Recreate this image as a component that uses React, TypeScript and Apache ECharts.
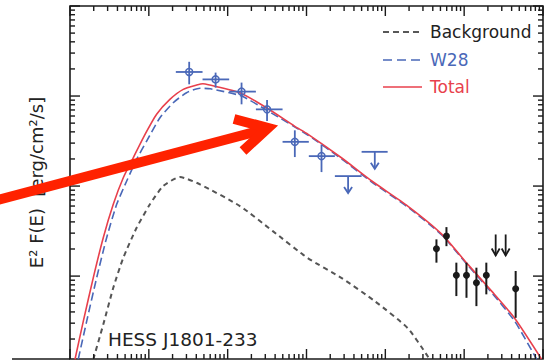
import React, { useEffect, useRef } from 'react';
import * as echarts from 'echarts';

// ---- Model curves (energy in eV, E^2 F(E) in erg/cm^2/s) ----
const totalE = [1.156e7, 1.476e7, 1.972e7, 2.642e7, 3.54e7, 4.74e7, 6.34e7, 8.49e7, 1.256e8, 1.849e8, 2.73e8, 4.04e8, 4.85e8, 5.94e8, 1.429e9, 3.11e9, 7.11e9, 1.038e10, 2.8e10, 6.73e10, 1.923e11, 5.19e11, 1.107e12, 2.23e12, 4.37e12, 9.59e12];
const totalF = [1.186e-13, 3.16e-13, 9.57e-13, 2.67e-12, 6.27e-12, 1.236e-11, 2.06e-11, 3.44e-11, 6.27e-11, 9.18e-11, 1.186e-10, 1.324e-10, 1.371e-10, 1.324e-10, 1.089e-10, 7.41e-11, 4.61e-11, 3.78e-11, 2.05e-11, 1.138e-11, 6.0e-12, 2.93e-12, 1.358e-12, 6.81e-13, 3.41e-13, 1.197e-13];

const w28E = [1.274e7, 1.629e7, 2.178e7, 2.917e7, 3.91e7, 5.24e7, 7.0e7, 9.38e7, 1.384e8, 2.04e8, 3.01e8, 4.45e8, 6.03e8, 1.5e9, 3.11e9, 1.038e10, 2.8e10, 6.73e10, 1.923e11, 5.19e11, 1.107e12, 2.23e12, 4.37e12, 8.3e12];
const w28F = [1.197e-13, 3.16e-13, 9.57e-13, 2.67e-12, 6.27e-12, 1.138e-11, 1.98e-11, 3.16e-11, 5.74e-11, 8.43e-11, 1.089e-10, 1.219e-10, 1.202e-10, 1.0e-10, 6.98e-11, 3.69e-11, 1.995e-11, 1.107e-11, 5.85e-12, 2.86e-12, 1.324e-12, 6.56e-13, 3.16e-13, 1.197e-13];

const bgE = [1.972e7, 2.642e7, 3.54e7, 4.74e7, 7.0e7, 1.033e8, 1.524e8, 2.48e8, 4.45e8, 1.429e9, 3.74e9, 1.038e10, 2.8e10, 7.35e10, 1.923e11, 3.44e11, 3.76e11];
const bgF = [1.186e-13, 2.9e-13, 7.41e-13, 1.596e-12, 3.44e-12, 6.27e-12, 1.0e-11, 1.259e-11, 1.045e-11, 6.0e-12, 3.16e-12, 1.585e-12, 9.5e-13, 5.27e-13, 2.64e-13, 1.29e-13, 1.107e-13];

// ---- Fermi (blue) points ----
const fermiE = [3.25e8, 7.03e8, 1.5e9, 3.16e9, 7.11e9, 1.55e10];
const fermiElo = [2.2e8, 4.8e8, 1.045e9, 2.28e9, 4.97e9, 1.07e10];
const fermiEhi = [4.8e8, 1.045e9, 2.28e9, 4.97e9, 1.07e10, 2.29e10];
const fermiF = [1.85e-10, 1.53e-10, 1.12e-10, 7.11e-11, 3.1e-11, 2.15e-11];
const fermiFlo = [1.35e-10, 1.24e-10, 8.09e-11, 5.27e-11, 2.1e-11, 1.43e-11];
const fermiFhi = [2.4e-10, 1.82e-10, 1.41e-10, 9.03e-11, 4.16e-11, 2.9e-11];
const fermiUlE = [3.37e10, 7.35e10];
const fermiUlElo = [2.29e10, 5.0e10];
const fermiUlEhi = [5.0e10, 1.07e11];
const fermiUlF = [1.29e-11, 2.4e-11];

// ---- HESS (black) points ----
const hessE = [4.45e11, 5.96e11, 7.96e11, 1.07e12, 1.43e12, 1.91e12, 4.5e12];
const hessF = [2.01e-12, 2.78e-12, 1.02e-12, 1.02e-12, 8.44e-13, 1.02e-12, 7.22e-13];
const hessFlo = [1.41e-12, 2.15e-12, 6.0e-13, 5.74e-13, 4.64e-13, 6.27e-13, 3.44e-13];
const hessFhi = [2.56e-12, 3.5e-12, 1.41e-12, 1.41e-12, 1.24e-12, 1.41e-12, 1.14e-12];
const hessUlE = [2.51e12, 3.36e12];
const hessUlF = [2.9e-12, 2.9e-12];

// ---- Axis ticks ----
const xDecades = [1e7, 1e8, 1e9, 1e10, 1e11, 1e12, 1e13];
const yDecades = [1e-13, 1e-12, 1e-11, 1e-10, 1e-9];
const mantissas = [2, 3, 4, 5, 6, 7, 8, 9];

const X_MIN = 1e7, X_MAX = 1e13, Y_MIN = 1.2e-13, Y_MAX = 1e-9;

const BLUE = '#4a68b8';
const RED = '#e8404c';
const GRAY = '#555555';
const INK = '#1a1a1a';
const FONT = 'DejaVu Sans';

export default function App() {
  const ref = useRef<HTMLDivElement>(null);
  useEffect(() => {
    const chart = echarts.init(ref.current as HTMLDivElement, null, { renderer: 'svg', width: 550, height: 361 });

    const xTickData: number[][] = [];
    xDecades.forEach((d) => {
      if (d >= X_MIN && d <= X_MAX) xTickData.push([d, 1e-11, 1]);
      mantissas.forEach((m) => {
        const v = d * m;
        if (v > X_MIN && v < X_MAX) xTickData.push([v, 1e-11, 0]);
      });
    });
    const yTickData: number[][] = [];
    yDecades.forEach((d) => {
      if (d >= Y_MIN && d <= Y_MAX) yTickData.push([1e9, d, 1]);
      mantissas.forEach((m) => {
        const v = d * m;
        if (v > Y_MIN && v < Y_MAX) yTickData.push([1e9, v, 0]);
      });
    });

    const tickStyle = { stroke: INK, lineWidth: 1.4 };

    const option: any = {
      animation: false,
      backgroundColor: '#ffffff',
      grid: { left: 70, top: 6, width: 473, height: 353, show: true, borderColor: INK, borderWidth: 1.6, backgroundColor: 'transparent' },
      xAxis: {
        type: 'log', logBase: 10, min: X_MIN, max: X_MAX,
        axisLine: { show: false }, axisTick: { show: false }, axisLabel: { show: false }, splitLine: { show: false },
      },
      yAxis: {
        type: 'log', logBase: 10, min: Y_MIN, max: Y_MAX,
        name: 'E\u00b2 F(E)  [erg/cm\u00b2/s]',
        nameLocation: 'middle', nameRotate: 90, nameGap: 25,
        nameTextStyle: { fontSize: 18, color: '#222', fontFamily: FONT },
        axisLine: { show: false }, axisTick: { show: false }, axisLabel: { show: false }, splitLine: { show: false },
      },
      series: [
        {
          type: 'custom', name: 'xticks', data: xTickData, clip: false, silent: true, z: 5,
          renderItem: (params: any, api: any) => {
            const cs = params.coordSys;
            const p = api.coord([api.value(0), api.value(1)]);
            const len = api.value(2) ? 10 : 5;
            const bot = cs.y + cs.height;
            return {
              type: 'group', children: [
                { type: 'line', shape: { x1: p[0], y1: bot, x2: p[0], y2: bot - len }, style: tickStyle },
                { type: 'line', shape: { x1: p[0], y1: cs.y, x2: p[0], y2: cs.y + len }, style: tickStyle },
              ],
            };
          },
        },
        {
          type: 'custom', name: 'yticks', data: yTickData, clip: false, silent: true, z: 5,
          renderItem: (params: any, api: any) => {
            const cs = params.coordSys;
            const p = api.coord([api.value(0), api.value(1)]);
            const len = api.value(2) ? 10 : 5;
            const right = cs.x + cs.width;
            return {
              type: 'group', children: [
                { type: 'line', shape: { x1: cs.x, y1: p[1], x2: cs.x + len, y2: p[1] }, style: tickStyle },
                { type: 'line', shape: { x1: right, y1: p[1], x2: right - len, y2: p[1] }, style: tickStyle },
              ],
            };
          },
        },
        {
          type: 'line', name: 'Background', data: bgE.map((e, i) => [e, bgF[i]]),
          showSymbol: false, symbol: 'none', smooth: 0.2, z: 2,
          lineStyle: { color: GRAY, width: 2, type: [5, 4] },
        },
        {
          type: 'line', name: 'W28', data: w28E.map((e, i) => [e, w28F[i]]),
          showSymbol: false, symbol: 'none', smooth: 0.2, z: 3,
          lineStyle: { color: BLUE, width: 1.6, type: [8, 4] },
        },
        {
          type: 'line', name: 'Total', data: totalE.map((e, i) => [e, totalF[i]]),
          showSymbol: false, symbol: 'none', smooth: 0.2, z: 4,
          lineStyle: { color: RED, width: 1.6 },
        },
        {
          type: 'custom', name: 'Fermi', z: 6,
          data: fermiE.map((e, i) => [e, fermiF[i], fermiElo[i], fermiEhi[i], fermiFlo[i], fermiFhi[i]]),
          renderItem: (params: any, api: any) => {
            const c = api.coord([api.value(0), api.value(1)]);
            const l = api.coord([api.value(2), api.value(1)]);
            const r = api.coord([api.value(3), api.value(1)]);
            const lo = api.coord([api.value(0), api.value(4)]);
            const hi = api.coord([api.value(0), api.value(5)]);
            const st = { stroke: BLUE, lineWidth: 1.8, fill: 'none' };
            return {
              type: 'group', children: [
                { type: 'line', shape: { x1: l[0], y1: c[1], x2: r[0], y2: c[1] }, style: st },
                { type: 'line', shape: { x1: c[0], y1: hi[1], x2: c[0], y2: lo[1] }, style: st },
                { type: 'circle', shape: { cx: c[0], cy: c[1], r: 3.5 }, style: { stroke: BLUE, lineWidth: 1.5, fill: 'none' } },
              ],
            };
          },
        },
        {
          type: 'custom', name: 'Fermi UL', z: 6,
          data: fermiUlE.map((e, i) => [e, fermiUlF[i], fermiUlElo[i], fermiUlEhi[i]]),
          renderItem: (params: any, api: any) => {
            const c = api.coord([api.value(0), api.value(1)]);
            const l = api.coord([api.value(2), api.value(1)]);
            const r = api.coord([api.value(3), api.value(1)]);
            const st = { stroke: BLUE, lineWidth: 1.8, fill: 'none' };
            const tip = c[1] + 17;
            return {
              type: 'group', children: [
                { type: 'line', shape: { x1: l[0], y1: c[1], x2: r[0], y2: c[1] }, style: st },
                { type: 'line', shape: { x1: c[0], y1: c[1], x2: c[0], y2: tip }, style: st },
                { type: 'polyline', shape: { points: [[c[0] - 4, tip - 6], [c[0], tip], [c[0] + 4, tip - 6]] }, style: st },
              ],
            };
          },
        },
        {
          type: 'custom', name: 'HESS', z: 6,
          data: hessE.map((e, i) => [e, hessF[i], hessFlo[i], hessFhi[i]]),
          renderItem: (params: any, api: any) => {
            const c = api.coord([api.value(0), api.value(1)]);
            const lo = api.coord([api.value(0), api.value(2)]);
            const hi = api.coord([api.value(0), api.value(3)]);
            return {
              type: 'group', children: [
                { type: 'line', shape: { x1: c[0], y1: hi[1], x2: c[0], y2: lo[1] }, style: { stroke: INK, lineWidth: 2 } },
                { type: 'circle', shape: { cx: c[0], cy: c[1], r: 3.5 }, style: { fill: INK } },
              ],
            };
          },
        },
        {
          type: 'custom', name: 'HESS UL', z: 6,
          data: hessUlE.map((e, i) => [e, hessUlF[i]]),
          renderItem: (params: any, api: any) => {
            const c = api.coord([api.value(0), api.value(1)]);
            const tip = c[1] + 21;
            const st = { stroke: INK, lineWidth: 1.8, fill: 'none' };
            return {
              type: 'group', children: [
                { type: 'line', shape: { x1: c[0], y1: c[1], x2: c[0], y2: tip }, style: st },
                { type: 'polyline', shape: { points: [[c[0] - 4, tip - 7], [c[0], tip], [c[0] + 4, tip - 7]] }, style: st },
              ],
            };
          },
        },
      ],
      graphic: [
        { type: 'line', shape: { x1: 12, y1: 359, x2: 70, y2: 359 }, style: { stroke: INK, lineWidth: 1.6 } },
        // legend
        { type: 'line', shape: { x1: 383, y1: 32, x2: 422, y2: 32 }, style: { stroke: '#222', lineWidth: 1.5, lineDash: [6, 4] } },
        { type: 'text', x: 430, y: 32, style: { text: 'Background', fontSize: 17, fontFamily: FONT, fill: '#222', verticalAlign: 'middle' } },
        { type: 'line', shape: { x1: 383, y1: 60, x2: 422, y2: 60 }, style: { stroke: BLUE, lineWidth: 1.5, lineDash: [9, 5] } },
        { type: 'text', x: 430, y: 60, style: { text: 'W28', fontSize: 17, fontFamily: FONT, fill: BLUE, verticalAlign: 'middle' } },
        { type: 'line', shape: { x1: 383, y1: 87, x2: 422, y2: 87 }, style: { stroke: RED, lineWidth: 1.6 } },
        { type: 'text', x: 430, y: 87, style: { text: 'Total', fontSize: 17, fontFamily: FONT, fill: RED, verticalAlign: 'middle' } },
        // source label
        { type: 'text', x: 108, y: 339, style: { text: 'HESS J1801-233', fontSize: 18.5, fontFamily: FONT, fill: '#222', verticalAlign: 'middle' } },
        // red annotation arrow
        { type: 'line', z: 100, shape: { x1: -10, y1: 202, x2: 266, y2: 129 }, style: { stroke: '#ff2200', lineWidth: 10 } },
        { type: 'polyline', z: 100, shape: { points: [[234, 119], [268, 128], [243, 151]] }, style: { stroke: '#ff2200', lineWidth: 10, fill: 'none', lineJoin: 'miter' } },
      ],
    };

    chart.setOption(option);
    return () => chart.dispose();
  }, []);
  return <div ref={ref} style={{ position: 'fixed', left: 0, top: 0, width: 550, height: 361, background: '#fff' }} />;
}
